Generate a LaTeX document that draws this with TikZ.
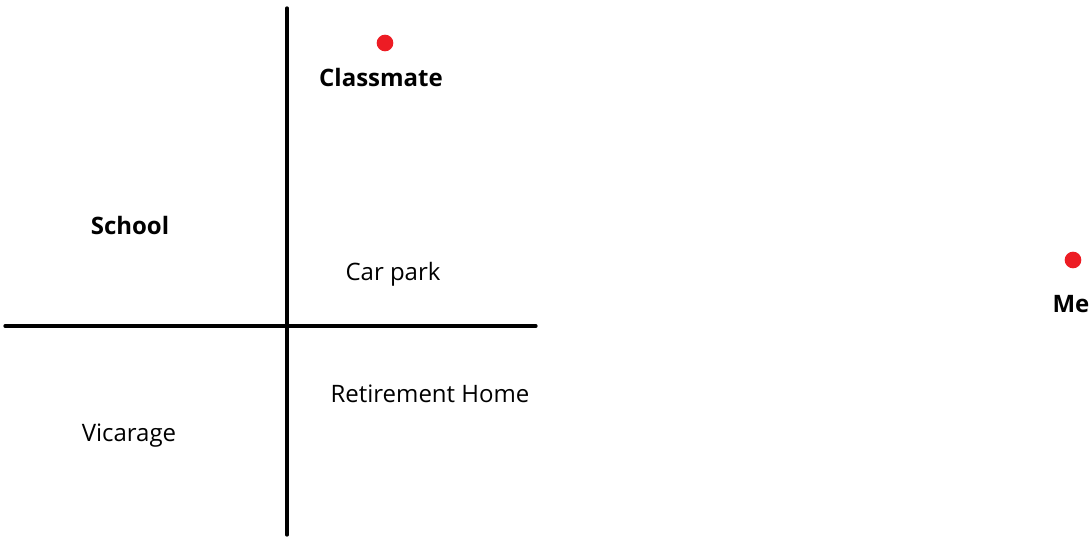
\documentclass[tikz,border=0pt]{standalone}
\usepackage{fontspec}
\setmainfont{Open Sans}
\usepackage{xcolor}
\usepackage{tikz}
\definecolor{dotred}{RGB}{237,28,36}

\begin{document}
\begin{tikzpicture}[
    x=0.75pt, y=-0.75pt,
    place/.style={inner sep=0pt, font=\fontsize{18}{22}\selectfont},
    person/.style={place, font=\fontsize{18}{22}\selectfont\bfseries},
    pin/.style={circle, fill=dotred, inner sep=0pt, minimum size=12.5pt},
    axis/.style={line width=2.5pt, line cap=round, draw=black}
]
\useasboundingbox (0,0) rectangle (1092,541);
% axes of the map
\coordinate (northend) at (287,8);
\coordinate (southend) at (287,535);
\coordinate (westend) at (5,326);
\coordinate (eastend) at (536,326);
\draw[axis] (northend) -- (southend);
\draw[axis] (westend) -- (eastend);
% places
\node[person] (school) at (130,226) {School};
\node[place] (carpark) at (393,274) {Car park};
\node[place] (retirement) at (430,394) {Retirement Home};
\node[place] (vicarage) at (129,436) {Vicarage};
% people
\node[pin] (classmatedot) at (385,43) {};
\node[person] (classmate) at (381,78) {Classmate};
\node[pin] (medot) at (1073,260) {};
\node[person] (me) at (1071,304) {Me};
\end{tikzpicture}
\end{document}
